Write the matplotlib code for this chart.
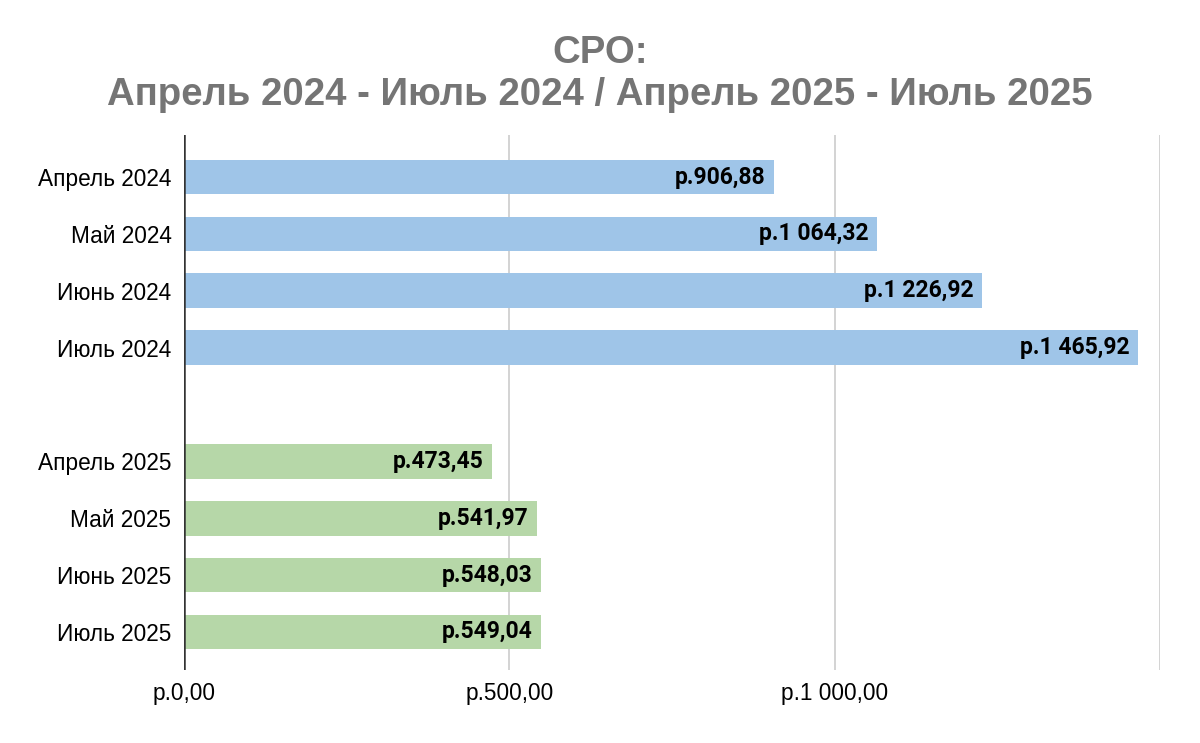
import numpy as np
import matplotlib.pyplot as plt
from matplotlib import font_manager

months_2024 = ['Апрель 2024', 'Май 2024', 'Июнь 2024', 'Июль 2024']
values_2024 = [906.88, 1064.32, 1226.92, 1465.92]
months_2025 = ['Апрель 2025', 'Май 2025', 'Июнь 2025', 'Июль 2025']
values_2025 = [473.45, 541.97, 548.03, 549.04]
x_ticks = [0, 500, 1000, 1500]
x_tick_labels = ['р.0,00', 'р.500,00', 'р.1 000,00', '']
title = 'СРО:\nАпрель 2024 - Июль 2024 / Апрель 2025 - Июль 2025'


def rub(v):
    s = f'{v:,.2f}'.replace(',', ' ').replace('.', ',')
    return 'р.' + s


# regular Liberation Sans (not the Narrow one)
lib_path = None
for f in font_manager.findSystemFonts():
    if f.endswith('LiberationSans-Regular.ttf'):
        lib_path = f
if lib_path:
    tick_font = font_manager.FontProperties(fname=lib_path, size=16.3)
else:
    tick_font = font_manager.FontProperties(family='DejaVu Sans', size=14.5)

fig = plt.figure(figsize=(12, 7.43), dpi=100)
ax = fig.add_axes([0.1533, 0.0983, 0.8134, 0.72])

pos_2024 = np.arange(len(months_2024))
pos_2025 = np.arange(len(months_2025)) + len(months_2024) + 1

ax.barh(pos_2024, values_2024, height=0.61, color='#9fc5e8', zorder=2)
ax.barh(pos_2025, values_2025, height=0.61, color='#b6d7a8', zorder=2)

for p, v in list(zip(pos_2024, values_2024)) + list(zip(pos_2025, values_2025)):
    ax.annotate(rub(v), (v, p), xytext=(-6, 0), textcoords='offset points',
                ha='right', va='center', fontsize=16.5, fontweight='bold',
                family='Roboto', color='black', zorder=3)

ax.set_yticks(list(pos_2024) + list(pos_2025))
ax.set_yticklabels(months_2024 + months_2025, fontproperties=tick_font)
ax.set_ylim(8.67, -0.74)

ax.set_xlim(0, 1500)
ax.set_xticks(x_ticks)
ax.set_xticklabels(x_tick_labels, fontproperties=tick_font)
ax.grid(axis='x', color='#cccccc', linewidth=1.2, zorder=0)
ax.axvline(0, color='#333333', linewidth=1.8, zorder=4)

for s in ax.spines.values():
    s.set_visible(False)
ax.tick_params(axis='y', length=0, pad=9)
ax.tick_params(axis='x', length=0, pad=9)

fig.text(0.5, 0.953, title, ha='center', va='top', fontsize=27.6,
         fontweight='bold', family='Liberation Sans', color='#757575',
         linespacing=1.22)

fig.savefig('out.png', dpi=100)
